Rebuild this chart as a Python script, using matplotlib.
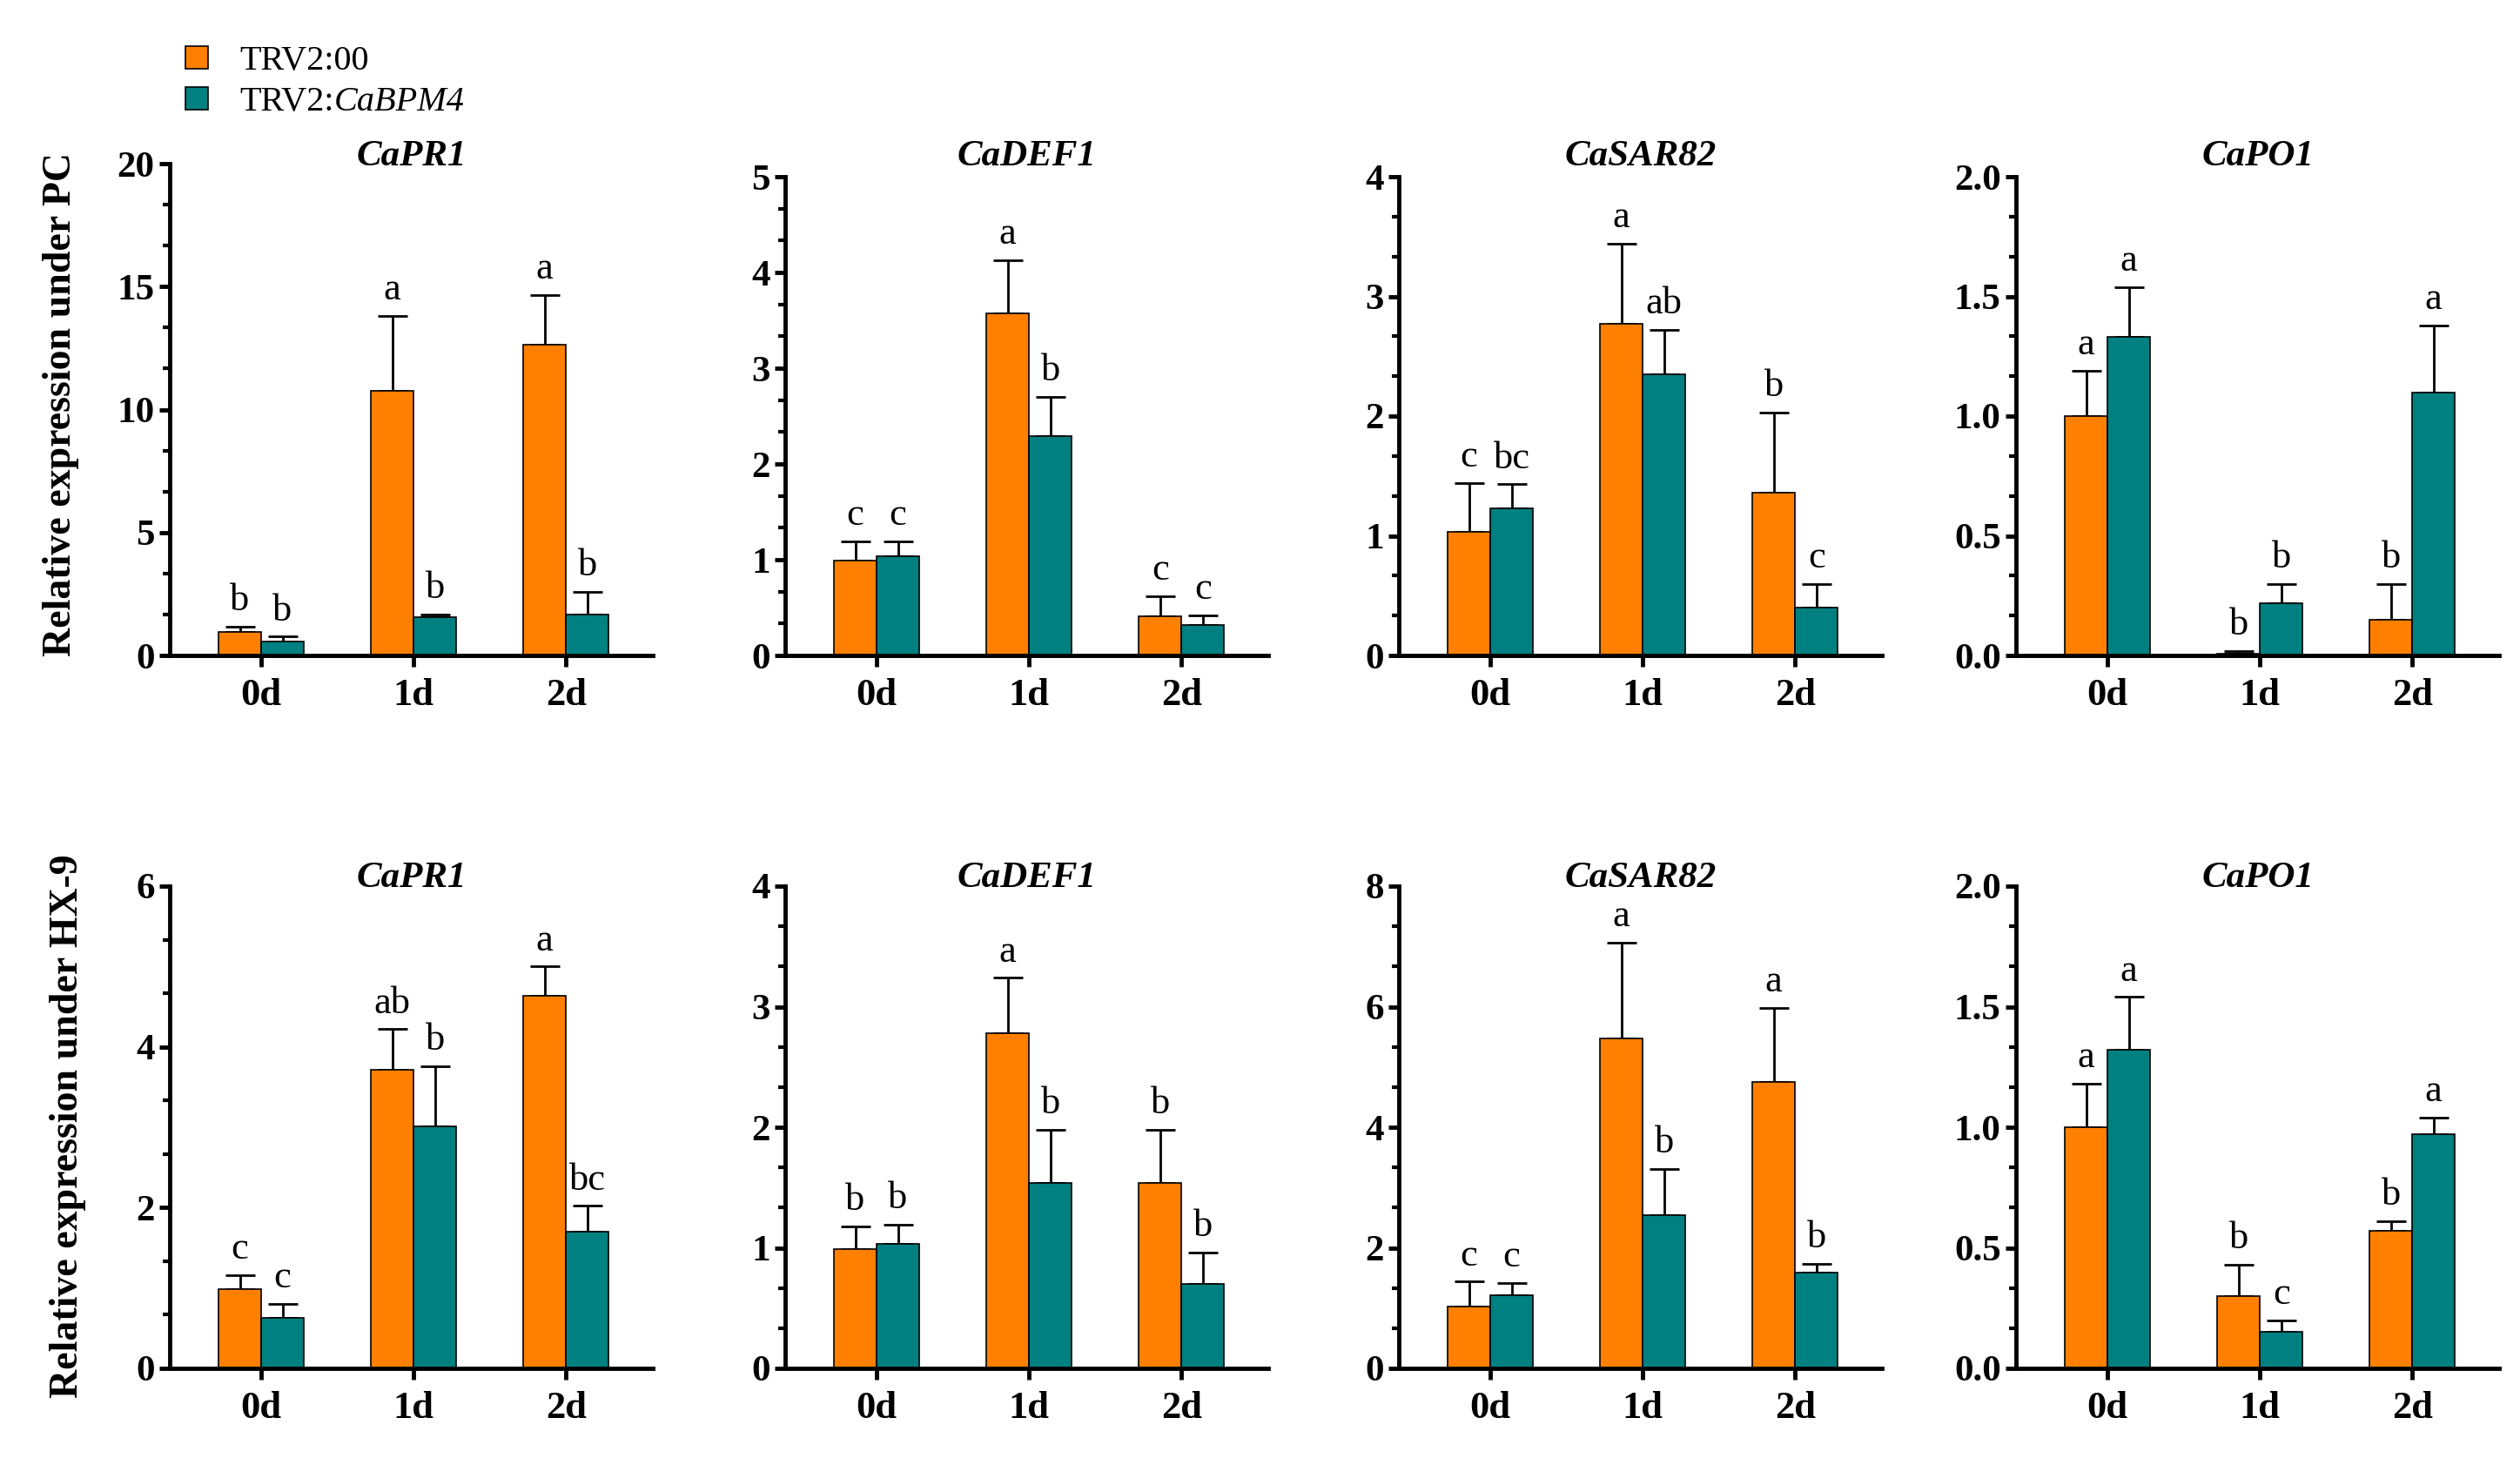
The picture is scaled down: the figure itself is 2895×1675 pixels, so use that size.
import matplotlib
matplotlib.use('Agg')
import matplotlib.pyplot as plt
from matplotlib.ticker import MultipleLocator, AutoMinorLocator
from matplotlib.patches import Patch
import numpy as np

plt.rcParams['font.family'] = 'Liberation Serif'
plt.rcParams['font.weight'] = 'bold'

days = ['0d', '1d', '2d']
genes = ['CaPR1', 'CaDEF1', 'CaSAR82', 'CaPO1']

# relative expression under PC (rows: genes, cols: 0d/1d/2d)
pc_ctrl = [[0.95, 10.75, 12.65], [0.99, 3.57, 0.41], [1.03, 2.77, 1.36], [1.00, 0.008, 0.15]]
pc_ctrl_sd = [[0.22, 3.05, 2.00], [0.20, 0.56, 0.21], [0.41, 0.67, 0.67], [0.19, 0.012, 0.15]]
pc_sil = [[0.57, 1.57, 1.68], [1.04, 2.29, 0.32], [1.23, 2.35, 0.40], [1.33, 0.22, 1.10]]
pc_sil_sd = [[0.20, 0.11, 0.92], [0.15, 0.41, 0.10], [0.20, 0.37, 0.20], [0.21, 0.08, 0.28]]
pc_ctrl_let = [['b', 'a', 'a'], ['c', 'a', 'c'], ['c', 'a', 'b'], ['a', 'b', 'b']]
pc_sil_let = [['b', 'b', 'b'], ['c', 'b', 'c'], ['bc', 'ab', 'c'], ['a', 'b', 'a']]
pc_ymax = [20, 5, 4, 2.0]
pc_ystep = [5, 1, 1, 0.5]

# relative expression under HX-9
hx_ctrl = [[0.99, 3.71, 4.63], [0.99, 2.78, 1.54], [1.02, 5.48, 4.75], [1.00, 0.30, 0.57]]
hx_ctrl_sd = [[0.17, 0.51, 0.37], [0.19, 0.46, 0.44], [0.42, 1.58, 1.23], [0.18, 0.13, 0.04]]
hx_sil = [[0.63, 3.01, 1.70], [1.03, 1.54, 0.70], [1.22, 2.54, 1.59], [1.32, 0.15, 0.97]]
hx_sil_sd = [[0.17, 0.75, 0.32], [0.16, 0.44, 0.26], [0.20, 0.77, 0.14], [0.22, 0.05, 0.07]]
hx_ctrl_let = [['c', 'ab', 'a'], ['b', 'a', 'b'], ['c', 'a', 'a'], ['a', 'b', 'b']]
hx_sil_let = [['c', 'b', 'bc'], ['b', 'b', 'b'], ['c', 'b', 'b'], ['a', 'c', 'a']]
hx_ymax = [6, 4, 8, 2.0]
hx_ystep = [2, 1, 2, 0.5]

orange = '#FF8000'
teal = '#008080'
bw = 0.28

rows = [
    (pc_ctrl, pc_ctrl_sd, pc_sil, pc_sil_sd, pc_ctrl_let, pc_sil_let, pc_ymax, pc_ystep),
    (hx_ctrl, hx_ctrl_sd, hx_sil, hx_sil_sd, hx_ctrl_let, hx_sil_let, hx_ymax, hx_ystep),
]

W, H = 2895, 1675
fig = plt.figure(figsize=(W / 100, H / 100), dpi=100)

lefts = [195, 902, 1607, 2316]
axw = 555
row_top = [203, 1018]
row_bot = [753, 1572]
title_y = [180, 1009]

for r, (ctrl, ctrl_sd, sil, sil_sd, ctrl_let, sil_let, ymax, ystep) in enumerate(rows):
    for c in range(4):
        top = row_top[r]
        if r == 0 and c == 0:
            top = 188
        ax = fig.add_axes([lefts[c] / W, 1 - row_bot[r] / H, axw / W, (row_bot[r] - top) / H])
        x = np.arange(3)
        for off, mean, sd, lets, col in [(-bw / 2, ctrl[c], ctrl_sd[c], ctrl_let[c], orange),
                                         (bw / 2, sil[c], sil_sd[c], sil_let[c], teal)]:
            ax.bar(x + off, mean, bw, color=col, edgecolor='black', linewidth=1.2, zorder=2)
            ax.errorbar(x + off, mean, yerr=[np.zeros(3), sd], fmt='none', ecolor='black',
                        elinewidth=2, capsize=12, capthick=2, zorder=1)
            for xi, m, s, l in zip(x + off, mean, sd, lets):
                ax.annotate(l, (xi, m + s), xytext=(0, 7), textcoords='offset points',
                            ha='center', va='bottom', fontsize=32, fontweight='normal')
        ax.set_xlim(-0.6, 2.57)
        ax.set_ylim(0, ymax[c])
        ax.yaxis.set_major_locator(MultipleLocator(ystep[c]))
        ax.yaxis.set_minor_locator(AutoMinorLocator(3))
        ax.set_xticks(x, days)
        ax.spines[['top', 'right']].set_visible(False)
        ax.spines[['left', 'bottom']].set_linewidth(3.5)
        ax.tick_params(axis='both', which='major', length=9, width=3.5, labelsize=31)
        ax.tick_params(axis='x', labelsize=32, pad=10)
        ax.tick_params(axis='y', which='minor', length=6, width=3)
        fig.text((lefts[c] + axw / 2) / W, 1 - title_y[r] / H, genes[c], ha='center',
                 va='center', fontsize=31, fontstyle='italic', fontweight='bold')

fig.text(70 / W, 1 - 464 / H, 'Relative expression under PC', rotation=90,
         ha='center', va='center', fontsize=33, fontweight='bold')
fig.text(78 / W, 1 - 1294 / H, 'Relative expression under HX-9', rotation=90,
         ha='center', va='center', fontsize=33, fontweight='bold')

handles = [Patch(facecolor=orange, edgecolor='black', linewidth=1.2),
           Patch(facecolor=teal, edgecolor='black', linewidth=1.2)]
leg = fig.legend(handles, ['TRV2:00', 'TRV2:'], loc='upper left',
                 bbox_to_anchor=(197 / W, 1 - 36 / H), frameon=False,
                 prop={'size': 29, 'weight': 'normal'}, handlelength=0.65, handleheight=0.65,
                 handletextpad=0.9, labelspacing=0.25, borderaxespad=0)
# italic gene name right after "TRV2:"
fig.canvas.draw()
fig.texts.append(plt.Annotation('CaBPM4', xy=(1, 0), xycoords=leg.get_texts()[1],
                                ha='left', va='bottom', fontsize=29,
                                fontstyle='italic', fontweight='normal'))
fig.texts[-1].set_figure(fig)

fig.savefig('out.png', dpi=100)
